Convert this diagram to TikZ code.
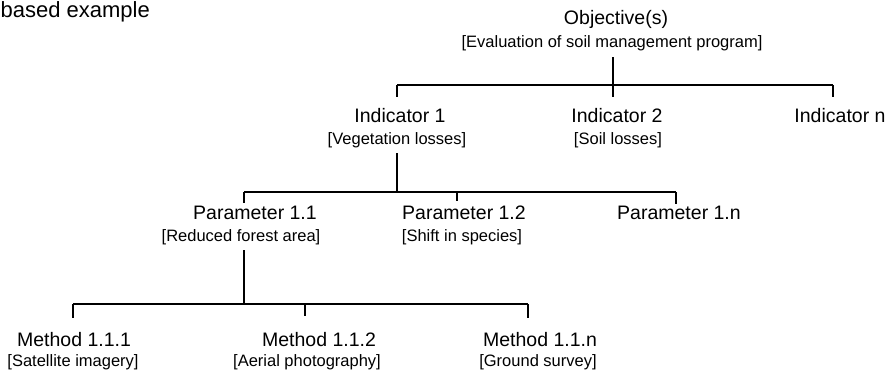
\documentclass[tikz,border=0pt]{standalone}
\usepackage{fontspec}
\setmainfont{Liberation Sans}
\begin{document}
\begin{tikzpicture}[x=1pt,y=-1pt,line width=1.3pt,
    head/.style={inner sep=0pt,anchor=base,font=\fontsize{19.5}{22}\selectfont},
    note/.style={inner sep=0pt,anchor=base,font=\fontsize{16.5}{18}\selectfont}]
  \useasboundingbox (0,0) rectangle (891,373);
  \node[head,anchor=base west,font=\fontsize{22}{24}\selectfont] (title) at (0,17) {based example};

  \node[head] (obj) at (616,24) {Objective(s)};
  \node[note] (objn) at (612,47) {[Evaluation of soil management program]};

  \node[head] (ind1) at (400,122) {Indicator 1};
  \node[note] (ind1n) at (397,144) {[Vegetation losses]};
  \node[head] (ind2) at (617,122) {Indicator 2};
  \node[note] (ind2n) at (618,144) {[Soil losses]};
  \node[head] (indn) at (840,122) {Indicator n};

  \node[head] (par1) at (255,219) {Parameter 1.1};
  \node[note] (par1n) at (241,241) {[Reduced forest area]};
  \node[head] (par2) at (464,219) {Parameter 1.2};
  \node[note] (par2n) at (462,241) {[Shift in species]};
  \node[head] (parn) at (679,219) {Parameter 1.n};

  \node[head] (met1) at (74,346) {Method 1.1.1};
  \node[note] (met1n) at (73,366) {[Satellite imagery]};
  \node[head] (met2) at (319,346) {Method 1.1.2};
  \node[note] (met2n) at (307,366) {[Aerial photography]};
  \node[head] (metn) at (540,346) {Method 1.1.n};
  \node[note] (metnn) at (538,366) {[Ground survey]};

  % objective -> indicators
  \coordinate (t11) at (397,85);
  \coordinate (t12) at (613,85);
  \coordinate (t1n) at (833,85);
  \draw (t11) -- (t1n);
  \draw[shorten >=10pt] (t11) -- (t11 |- ind1.north);
  \draw[shorten >=10pt] (t1n) -- (t1n |- indn.north);
  \draw[shorten <=6pt,shorten >=10pt] (t12 |- objn.south) -- (t12 |- ind2.north);

  % indicator 1 -> parameters
  \coordinate (t21) at (244,192);
  \coordinate (t22) at (457,192);
  \coordinate (t2n) at (676,192);
  \draw[shorten <=5pt] (t11 |- ind1n.south) -- (t11 |- t21);
  \draw (t21) -- (t2n);
  \draw[shorten >=2pt] (t21) -- (t21 |- par1.north);
  \draw[shorten >=4pt] (t22) -- (t22 |- par2.north);
  \draw[shorten >=1pt] (t2n) -- (t2n |- parn.north);

  % parameter 1.1 -> methods
  \coordinate (t31) at (73,304);
  \coordinate (t32) at (305,304);
  \coordinate (t3n) at (528,304);
  \draw[shorten <=5pt] (t21 |- par1n.south) -- (t21 |- t31);
  \draw (t31) -- (t3n);
  \draw[shorten >=13pt] (t31) -- (t31 |- met1.north);
  \draw[shorten >=15pt] (t32) -- (t32 |- met2.north);
  \draw[shorten >=13pt] (t3n) -- (t3n |- metn.north);
\end{tikzpicture}
\end{document}
